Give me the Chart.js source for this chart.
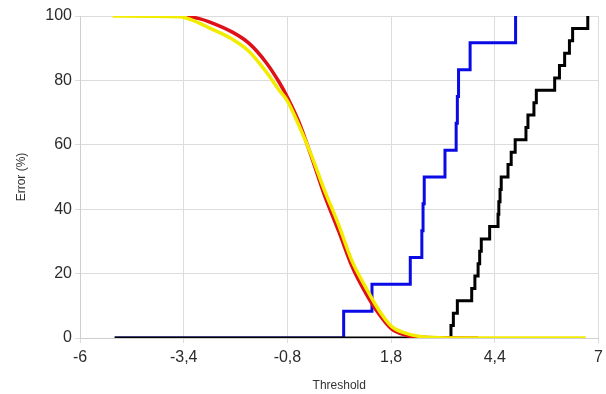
<!DOCTYPE html>
<html>
<head>
<meta charset="utf-8">
<script src="https://cdn.jsdelivr.net/npm/chart.js@4/dist/chart.umd.min.js"></script>
<style>
  html, body { margin: 0; padding: 0; background: #fff; }
  #wrap { width: 606px; height: 394px; position: relative; }
</style>
</head>
<body>
<div id="wrap"><canvas id="chartThreshold"></canvas></div>
<script>
// ---- data ----
const xTicks = [-6, -3.4, -0.8, 1.8, 4.4, 7];

const yellowX = [-5.18, -3.5, -3.01, -2.76, -2.18, -1.76, -1.33, -1.01, -0.81, -0.51, -0.19, 0.11, 0.49, 0.81, 1.16, 1.49, 1.81, 2.16, 2.56, 3.0, 3.5, 6.68];
const yellowY = [100, 99.8, 97.8, 96.3, 92.8, 89, 82.6, 77, 73.8, 66, 56.5, 46.5, 35, 24.2, 15.8, 8.7, 3.6, 1.5, 0.4, 0.1, 0, 0];

const redX = [-3.38, -3.01, -2.76, -2.18, -1.76, -1.33, -1.01, -0.81, -0.51, -0.19, 0.11, 0.49, 0.81, 1.16, 1.49, 1.81, 2.16, 2.56, 3.0, 3.98];
const redY = [100, 99.2, 98.2, 95, 91.5, 85.5, 79.5, 75, 67, 56, 45, 33, 22.5, 14, 7.5, 2.8, 0.9, 0.2, 0.1, 0];

const blackX = [-5.13, 3.30, 3.36, 3.46, 3.82, 3.90, 3.98, 4.02, 4.06, 4.27, 4.48, 4.50, 4.53, 4.56, 4.73, 4.81, 4.91, 5.18, 5.23, 5.38, 5.44, 5.90, 6.02, 6.15, 6.27, 6.35, 6.73];
const blackY = [0, 3.85, 7.69, 11.54, 15.38, 19.23, 23.08, 26.92, 30.77, 34.62, 38.46, 42.31, 46.15, 50, 53.85, 57.69, 61.54, 65.38, 69.23, 73.08, 76.92, 80.77, 84.62, 88.46, 92.31, 96.15, 100];

const blueX = [-5.13, 0.61, 1.32, 2.28, 2.57, 2.60, 2.63, 3.15, 3.43, 3.46, 3.49, 3.78, 4.92];
const blueY = [0, 8.33, 16.67, 25, 33.33, 41.67, 50, 58.33, 66.67, 75, 83.33, 91.67, 100];

const pts = (xs, ys) => xs.map((x, i) => ({ x: x, y: ys[i] }));

Chart.defaults.font.family = "'Liberation Sans', Arial, Helvetica, sans-serif";
Chart.defaults.color = '#2b2b2b';

const canvas = document.getElementById('chartThreshold');
new Chart(canvas, {
    type: 'line',
    data: {
        datasets: [{
            // index 0 is drawn on top
            data: pts(yellowX, yellowY),
            borderColor: '#f2ec00', borderWidth: 3.5,
            pointRadius: 0, cubicInterpolationMode: 'monotone',
        }, {
            data: pts(redX, redY),
            borderColor: '#e01018', borderWidth: 3.5,
            pointRadius: 0, cubicInterpolationMode: 'monotone',
        }, {
            data: pts(blackX, blackY),
            borderColor: '#000000', borderWidth: 3,
            pointRadius: 0, stepped: 'before',
        }, {
            data: pts(blueX, blueY),
            borderColor: '#0a0ae6', borderWidth: 3,
            pointRadius: 0, stepped: 'before',
        }]
    },
    options: {
        responsive: true, maintainAspectRatio: false,
        animation: false,
        layout: { padding: { left: 0, right: 5, top: 16, bottom: 0 } },
        plugins: { legend: { display: false }, tooltip: { enabled: false } },
        scales: {
            x: {
                type: 'linear', min: -6, max: 7,
                afterBuildTicks: s => { s.ticks = xTicks.map(v => ({ value: v })); },
                afterFit: s => { s.height = 56; },
                ticks: {
                    callback: v => String(v).replace('.', ','),
                    font: { size: 16, lineHeight: 1.5 }, padding: 3, maxRotation: 0,
                },
                grid: { color: '#dcdcdc', tickLength: 5 },
                border: { color: '#cfcfcf' },
                title: { display: true, text: 'Threshold', font: { size: 12 }, color: '#333', padding: { top: 0, bottom: 1 } },
            },
            y: {
                min: 0, max: 100,
                afterFit: s => { s.width = 80; },
                ticks: { stepSize: 20, font: { size: 16 }, padding: 3 },
                grid: { color: '#dcdcdc', tickLength: 5 },
                border: { color: '#cfcfcf' },
                title: { display: true, text: 'Error (%)', font: { size: 12 }, color: '#333', padding: { top: 14, bottom: 0 } },
            }
        }
    }
});
</script>
</body>
</html>
